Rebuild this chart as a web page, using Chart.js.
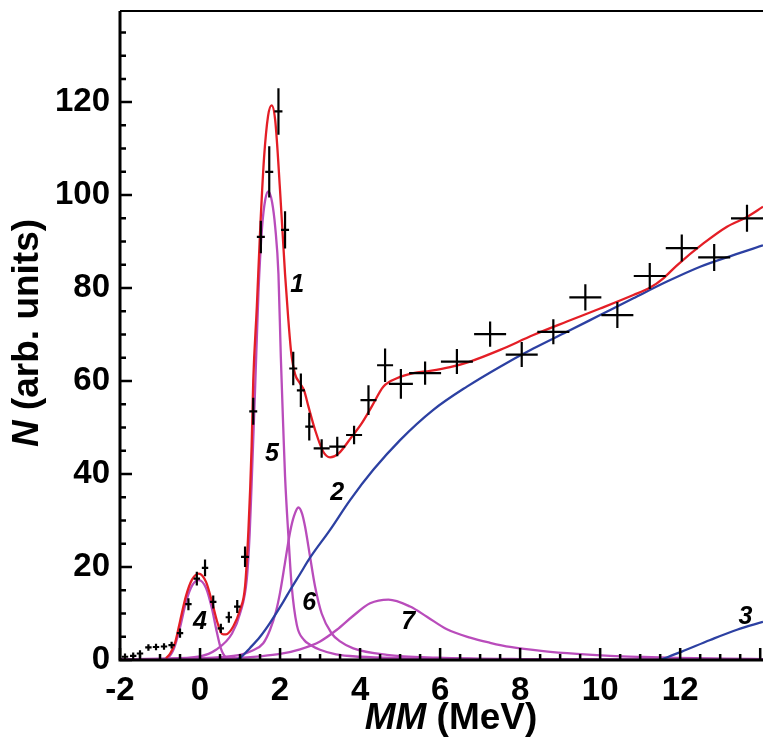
<!DOCTYPE html>
<html>
<head>
<meta charset="utf-8">
<script src="https://cdn.jsdelivr.net/npm/chart.js@4.4.1/dist/chart.umd.min.js"></script>
<style>
html, body { margin: 0; padding: 0; background: #fff; }
#wrap { width: 763px; height: 740px; position: relative; }
</style>
</head>
<body>
<div id="wrap"><canvas id="chart"></canvas></div>
<script>
const FONT = "'Liberation Sans', Arial, sans-serif";

/* measured points with error bars */
const pointsX = [-1.875, -1.67, -1.5, -1.29, -1.1, -0.9, -0.71, -0.5, -0.29, -0.08, 0.125, 0.33, 0.52, 0.72, 0.93, 1.125, 1.33, 1.52, 1.73, 1.96, 2.125, 2.33, 2.52, 2.73, 3.04, 3.43, 3.85, 4.21, 4.625, 5.02, 5.625, 6.42, 7.25, 8.04, 8.83, 9.63, 10.43, 11.24, 12.04, 12.85, 13.67];
const pointsY = [0.7, 0.9, 1.4, 2.7, 2.8, 2.9, 3.2, 5.8, 12, 17.5, 19.8, 12.5, 6.8, 9.2, 11.5, 22.2, 53.5, 91, 105, 118, 92.5, 62.7, 58, 50.2, 45.5, 45.9, 48.4, 55.9, 63.4, 59.4, 61.7, 64.2, 70.1, 65.7, 70.6, 78, 74.2, 82.6, 88.6, 86.6, 95];
const errX = [0.08, 0.08, 0.08, 0.08, 0.08, 0.08, 0.08, 0.08, 0.08, 0.08, 0.08, 0.08, 0.08, 0.08, 0.08, 0.1, 0.1, 0.1, 0.1, 0.1, 0.1, 0.1, 0.1, 0.1, 0.2, 0.2, 0.2, 0.2, 0.2, 0.3, 0.4, 0.4, 0.4, 0.4, 0.4, 0.4, 0.4, 0.4, 0.4, 0.4, 0.4];
const errY = [0.7, 0.7, 0.7, 0.7, 0.7, 0.7, 0.7, 1, 1.3, 1.5, 1.8, 1.4, 1, 1.2, 1.4, 2.2, 2.9, 3.5, 5.5, 5, 4, 3.6, 3.6, 3, 2, 2.1, 2, 3.2, 3.6, 3.2, 2.5, 2.7, 2.7, 2.7, 2.7, 2.8, 2.8, 2.8, 2.9, 2.9, 2.9];

/* 1: total fit */
const fit1X = [-0.85, -0.75, -0.62, -0.5, -0.35, -0.2, -0.03, 0.15, 0.3, 0.42, 0.55, 0.65, 0.83, 1.0, 1.125, 1.21, 1.29, 1.33, 1.42, 1.5, 1.6, 1.7, 1.79, 1.88, 2.0, 2.125, 2.2, 2.28, 2.375, 2.5, 2.6, 2.71, 2.875, 3.08, 3.25, 3.46, 3.79, 4.04, 4.29, 4.58, 4.92, 5.33, 5.75, 6.25, 6.75, 7.5, 8.33, 9.17, 10, 10.83, 11.25, 11.58, 11.92, 12.58, 13.17, 13.67, 14.07];
const fit1Y = [0.4, 1.3, 3.8, 8.3, 13.8, 17.3, 18.6, 16.8, 12.5, 8.5, 5.6, 5.5, 7.2, 10.8, 15.8, 28, 46, 60, 76, 92, 108, 117, 119.3, 116, 101, 83, 74, 66, 61.5, 59.5, 58, 54.5, 49.5, 44.8, 43.6, 44.4, 48, 50.9, 54.5, 58.8, 60.6, 61.7, 62.2, 63, 64.2, 66.7, 69.9, 72.8, 75.6, 78.5, 80.1, 82.1, 84.9, 89.6, 93.2, 95.3, 97.5];

/* 2, 3: blue components */
const fit2X = [0.9, 1.0, 1.25, 1.5, 1.75, 2.08, 2.25, 2.5, 2.75, 3.25, 3.75, 4.33, 5.0, 5.83, 6.67, 7.5, 8.33, 9.17, 10, 10.83, 11.67, 12.5, 13.33, 14.07];
const fit2Y = [0, 0.4, 2.6, 5, 8, 12.5, 15, 18.5, 22, 28, 34.4, 40.9, 47.3, 53.8, 58.8, 63.1, 67, 70.6, 74.2, 77.8, 81.4, 84.6, 87.1, 89.2];
const fit3X = [11.5, 12.04, 12.75, 13.42, 14.07];
const fit3Y = [0, 1.8, 4.3, 6.5, 8.2];

/* 4-7: magenta components */
const fit4X = [-2, -1.0, -0.8, -0.65, -0.5, -0.35, -0.2, -0.03, 0.15, 0.3, 0.42, 0.52, 0.65, 0.8, 1.0, 14.07];
const fit4Y = [0, 0.05, 0.5, 2.5, 7, 12.5, 16, 17.2, 15.5, 11, 6, 2.5, 0.5, 0.1, 0, 0];
const fit5X = [-2, -1, 0, 0.4, 0.8, 1.0, 1.17, 1.24, 1.29, 1.375, 1.46, 1.55, 1.63, 1.71, 1.8, 1.88, 1.96, 2.02, 2.08, 2.125, 2.21, 2.29, 2.42, 2.6, 2.75, 3.0, 3.4, 4, 5, 7, 10, 14.07];
const fit5Y = [0.1, 0.3, 0.8, 2.2, 5.7, 10, 17.5, 27, 38, 58, 79, 93, 99, 100.8, 98.5, 93, 83, 65, 50, 39.5, 26.5, 16, 7.5, 4.3, 3.3, 2.2, 1.2, 0.7, 0.4, 0.2, 0.1, 0.05];
const fit6X = [-2, -1, 0, 0.5, 1.0, 1.3, 1.58, 1.75, 1.9, 2.0, 2.125, 2.25, 2.35, 2.46, 2.55, 2.625, 2.75, 2.875, 3.04, 3.29, 3.5, 3.83, 4.67, 5.92, 8, 14.07];
const fit6Y = [0.1, 0.2, 0.4, 0.6, 1.1, 2, 3.6, 6.5, 10.5, 14.5, 21, 27.5, 31, 32.8, 31.5, 28.7, 22.2, 15.8, 10, 5.7, 4, 2.5, 1.1, 0.5, 0.2, 0.05];
const fit7X = [-2, 0, 0.83, 1.5, 2.0, 2.5, 3.0, 3.42, 3.8, 4.25, 4.71, 5.25, 5.67, 6.17, 6.75, 7.25, 7.75, 8.58, 9.42, 10.25, 11.08, 11.92, 13.17, 14.07];
const fit7Y = [0.05, 0.2, 0.4, 0.8, 1.3, 2.3, 4.0, 6.5, 9.3, 12.2, 13.0, 11.5, 9.3, 6.6, 4.8, 3.7, 2.8, 1.9, 1.3, 0.9, 0.65, 0.45, 0.3, 0.2];

/* curve numbers */
const curveNames = ["1", "2", "3", "4", "5", "6", "7"];
const curveNameX = [2.43, 3.43, 13.63, 0, 1.8, 2.73, 5.2];
const curveNameY = [80.6, 35.9, 9.2, 8.2, 44.3, 12.3, 8.2];

const RED = "#e41e26";
const BLUE = "#2c40a2";
const MAGENTA = "#b94cbb";

const pts = (xs, ys) => xs.map((x, i) => ({ x: x, y: ys[i] }));

function curve(xs, ys, color, order) {
    return {
        data: pts(xs, ys),
        borderColor: color,
        borderWidth: 2.3,
        pointRadius: 0,
        showLine: true,
        fill: false,
        cubicInterpolationMode: "monotone",
        order: order
    };
}

const decor = {
    id: "decor",
    afterDatasetsDraw(chart) {
        const { ctx, scales: { x, y } } = chart;
        ctx.save();

        // error bars
        ctx.strokeStyle = "#000";
        ctx.lineWidth = 2.2;
        pointsX.forEach((px, i) => {
            const cx = x.getPixelForValue(px);
            const cy = y.getPixelForValue(pointsY[i]);
            ctx.beginPath();
            ctx.moveTo(x.getPixelForValue(px - errX[i]), cy);
            ctx.lineTo(x.getPixelForValue(px + errX[i]), cy);
            ctx.moveTo(cx, y.getPixelForValue(pointsY[i] - errY[i]));
            ctx.lineTo(cx, y.getPixelForValue(pointsY[i] + errY[i]));
            ctx.stroke();
        });

        // curve numbers
        ctx.fillStyle = "#000";
        ctx.font = "italic bold 25px " + FONT;
        ctx.textAlign = "center";
        ctx.textBaseline = "middle";
        curveNames.forEach((t, i) => {
            ctx.fillText(t, x.getPixelForValue(curveNameX[i]), y.getPixelForValue(curveNameY[i]));
        });
        ctx.restore();
    },
    afterDraw(chart) {
        const { ctx, chartArea: a, scales: { x, y } } = chart;
        ctx.save();
        ctx.strokeStyle = "#000";

        // frame
        ctx.lineWidth = 3;
        ctx.beginPath();
        ctx.moveTo(a.left, a.top);
        ctx.lineTo(a.left, a.bottom);
        ctx.lineTo(a.right, a.bottom);
        ctx.stroke();
        ctx.lineWidth = 2;
        ctx.beginPath();
        ctx.moveTo(a.left, a.top);
        ctx.lineTo(a.right, a.top);
        ctx.stroke();

        // inward ticks
        ctx.lineWidth = 2.5;
        ctx.beginPath();
        x.ticks.forEach(t => {
            const px = x.getPixelForValue(t.value);
            const len = t.value % 2 === 0 ? 12 : 6;
            ctx.moveTo(px, a.bottom);
            ctx.lineTo(px, a.bottom - len);
        });
        y.ticks.forEach(t => {
            const py = y.getPixelForValue(t.value);
            const len = t.value % 20 === 0 ? 12 : 6;
            ctx.moveTo(a.left, py);
            ctx.lineTo(a.left + len, py);
        });
        ctx.stroke();

        // axis titles
        ctx.fillStyle = "#000";
        ctx.textBaseline = "middle";
        ctx.textAlign = "left";
        const fI = "italic bold 37px " + FONT;
        const fB = "bold 37px " + FONT;

        ctx.font = fI;
        const wMM = ctx.measureText("MM").width;
        ctx.font = fB;
        const wMeV = ctx.measureText(" (MeV)").width;
        let sx = 451 - (wMM + wMeV) / 2;
        ctx.font = fI;
        ctx.fillText("MM", sx, 719);
        ctx.font = fB;
        ctx.fillText(" (MeV)", sx + wMM, 719);

        ctx.translate(28, 333);
        ctx.rotate(-Math.PI / 2);
        ctx.font = fI;
        const wN = ctx.measureText("N").width;
        ctx.font = fB;
        const wU = ctx.measureText(" (arb. units)").width;
        sx = -(wN + wU) / 2;
        ctx.font = fI;
        ctx.fillText("N", sx, 0);
        ctx.font = fB;
        ctx.fillText(" (arb. units)", sx + wN, 0);
        ctx.restore();
    }
};

new Chart(document.getElementById("chart"), {
    type: "scatter",
    data: {
        datasets: [
            curve(fit1X, fit1Y, RED, 1),
            curve(fit2X, fit2Y, BLUE, 2),
            curve(fit3X, fit3Y, BLUE, 2),
            curve(fit4X, fit4Y, MAGENTA, 3),
            curve(fit5X, fit5Y, MAGENTA, 3),
            curve(fit6X, fit6Y, MAGENTA, 3),
            curve(fit7X, fit7Y, MAGENTA, 3)
        ]
    },
    options: {
        responsive: true,
        maintainAspectRatio: false,
        animation: false,
        layout: { padding: { top: 11, right: 0, left: 0, bottom: 0 } },
        plugins: {
            legend: { display: false },
            tooltip: { enabled: false }
        },
        scales: {
            x: {
                type: "linear",
                min: -2,
                max: 14.07,
                grid: { display: false, drawTicks: false, tickLength: 0 },
                border: { display: false },
                ticks: {
                    stepSize: 0.5,
                    includeBounds: false,
                    autoSkip: false,
                    maxRotation: 0,
                    padding: 11,
                    color: "#000",
                    font: { family: FONT, size: 33, weight: "bold" },
                    callback: v => (v % 2 === 0 && v <= 12) ? v : ""
                },
                afterFit(s) {
                    s.height = 80;
                    s.paddingLeft = 0; s.paddingRight = 0;
                }
            },
            y: {
                type: "linear",
                min: 0,
                max: 139.6,
                grid: { display: false, drawTicks: false, tickLength: 0 },
                border: { display: false },
                ticks: {
                    stepSize: 5,
                    includeBounds: false,
                    autoSkip: false,
                    padding: 10,
                    color: "#000",
                    font: { family: FONT, size: 33, weight: "bold" },
                    callback: v => v % 20 === 0 ? v : ""
                },
                afterFit(s) {
                    s.width = 120;
                    s.paddingTop = 0; s.paddingBottom = 0;
                }
            }
        }
    },
    plugins: [decor]
});
</script>
</body>
</html>
